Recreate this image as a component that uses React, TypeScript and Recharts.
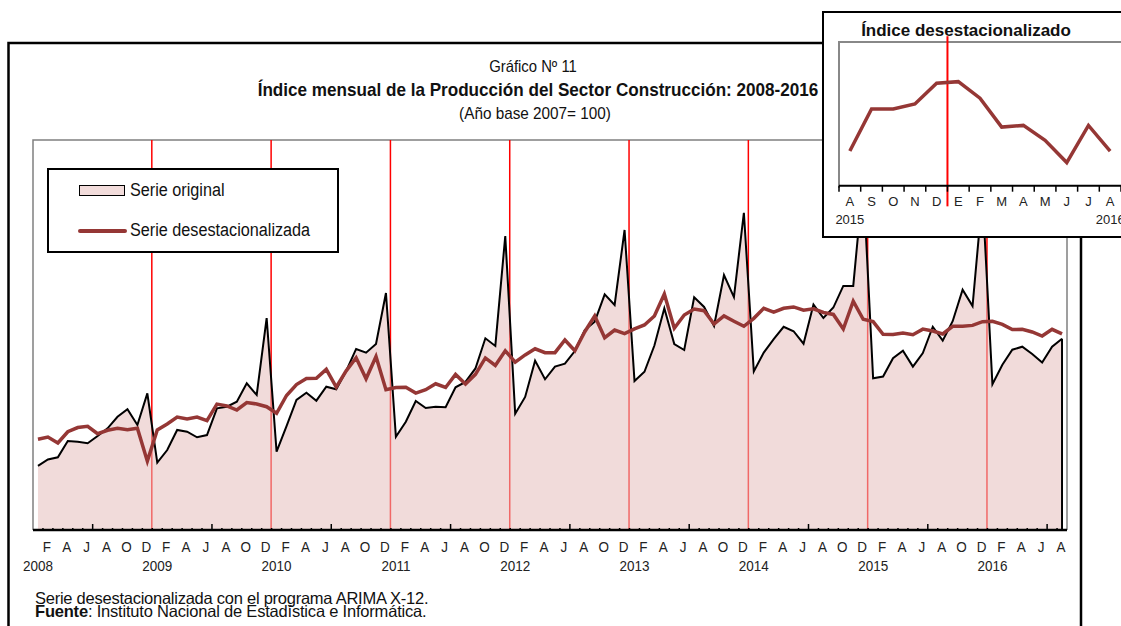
import React from 'react';
import { ComposedChart, LineChart, Area, Line, XAxis, YAxis, ReferenceLine } from 'recharts';

const ARIAL = "'Liberation Sans', Arial, sans-serif";
const NARROW_SCALE = 0.9;

const startYear = 2008;
const monthLetters = ['E', 'F', 'M', 'A', 'M', 'J', 'J', 'A', 'S', 'O', 'N', 'D'];

// Serie original (Ene 2008 - Ago 2016)
const original = [
  112.7, 117.0, 118.5, 129.3, 128.9, 127.8, 132.7, 137.8, 145.5, 150.5, 140.0, 161.1,
  114.9, 123.3, 136.7, 135.5, 131.8, 133.3, 151.1, 152.2, 155.5, 167.8, 160.0, 211.3,
  122.2, 139.3, 156.7, 161.5, 156.2, 165.5, 163.8, 176.0, 190.7, 188.2, 194.0, 228.0,
  132.2, 142.2, 156.0, 151.3, 152.2, 151.8, 165.1, 168.7, 177.7, 197.8, 192.7, 266.0,
  147.5, 158.7, 182.9, 170.5, 178.9, 180.9, 189.3, 203.3, 208.9, 227.1, 220.0, 270.0,
  169.3, 175.5, 193.0, 217.8, 194.0, 190.0, 225.1, 218.7, 206.0, 240.0, 225.3, 281.5,
  175.7, 188.3, 197.3, 205.5, 202.5, 194.2, 220.3, 211.3, 218.3, 232.7, 232.7, 303.3,
  171.1, 172.3, 184.5, 189.5, 178.9, 188.0, 205.5, 196.2, 209.2, 230.2, 219.3, 293.3,
  167.2, 180.2, 190.2, 192.2, 187.3, 181.7, 192.2, 197.5,
];

// Serie desestacionalizada
const desest = [
  130.5, 132.0, 128.0, 135.5, 138.3, 139.1, 134.2, 136.5, 137.8, 136.9, 137.8, 115.9,
  136.7, 140.7, 145.3, 144.1, 145.3, 142.9, 153.9, 152.7, 150.0, 155.0, 154.0, 152.2,
  147.8, 159.7, 167.0, 171.0, 171.1, 177.1, 165.3, 176.1, 184.8, 170.8, 185.7, 163.5,
  165.0, 165.1, 161.3, 163.5, 167.5, 165.0, 173.7, 167.3, 173.8, 184.7, 179.7, 189.5,
  181.9, 186.7, 190.8, 188.2, 188.2, 196.7, 189.5, 202.2, 212.7, 198.2, 203.3, 200.9,
  204.1, 206.7, 212.7, 227.3, 204.5, 213.3, 217.3, 216.2, 207.3, 212.7, 209.2, 205.8,
  211.1, 217.8, 215.3, 217.8, 218.7, 216.5, 217.5, 215.0, 213.7, 204.0, 222.5, 210.5,
  208.9, 200.5, 200.3, 201.3, 200.2, 203.9, 202.7, 200.7, 205.8, 205.8, 206.4, 208.9,
  209.1, 207.1, 203.6, 203.8, 202.0, 199.3, 203.8, 200.7,
];

const decemberIdx = [11, 23, 35, 47, 59, 71, 83, 95];
const mainDomain = [70, 330];

// Inset: Ago 2015 - Ago 2016
const insetStart = 91;
const insetLetters = ['A', 'S', 'O', 'N', 'D', 'E', 'F', 'M', 'A', 'M', 'J', 'J', 'A'];
const insetYears = ['2015', '2016'];
const insetDomain = [196.5, 213.9];

const mainData = original.map((v, i) => ({ i, original: v, desest: desest[i] }));
const insetData = desest.slice(insetStart).map((v, j) => ({ j, v }));

const mainTicks: number[] = [];
for (let i = 0; i < original.length; i++) mainTicks.push(i);
for (let i = 0; i < original.length - 1; i++) mainTicks.push(i + 0.5);
mainTicks.sort((a, b) => a - b);

const insetTicks: number[] = [];
for (let j = -0.5; j <= insetLetters.length - 0.5; j += 0.5) insetTicks.push(j);

const NarrowText = ({ x, y, children, size = 15 }: any) => (
  <text
    transform={`translate(${x},${y}) scale(${NARROW_SCALE},1)`}
    textAnchor="middle"
    fontFamily={ARIAL}
    fontSize={size}
    fill="#222"
  >
    {children}
  </text>
);

const MainTick = (props: any) => {
  const { x, y, payload } = props;
  const v = payload.value;
  if (Number.isInteger(v)) {
    const m = v % 12;
    return (
      <g>
        {m % 2 === 1 && <NarrowText x={x - 1} y={y + 22}>{monthLetters[m]}</NarrowText>}
        {m === 0 && <NarrowText x={x} y={y + 41}>{startYear + v / 12}</NarrowText>}
      </g>
    );
  }
  const major = (((v - 5.5) % 12) + 12) % 12 === 0;
  return <line x1={x} x2={x} y1={y} y2={y - (major ? 6 : 2)} stroke="#000" strokeWidth={1.5} />;
};

const InsetTick = (props: any) => {
  const { x, y, payload } = props;
  const v = payload.value;
  if (Number.isInteger(v)) {
    return (
      <g>
        <text x={x} y={y + 20} textAnchor="middle" fontFamily={ARIAL} fontSize={13} fill="#222">
          {insetLetters[v]}
        </text>
        {v === 0 && (
          <text x={x} y={y + 38} textAnchor="middle" fontFamily={ARIAL} fontSize={13} fill="#222">
            {insetYears[0]}
          </text>
        )}
        {v === insetLetters.length - 1 && (
          <text x={x} y={y + 38} textAnchor="middle" fontFamily={ARIAL} fontSize={13} fill="#222">
            {insetYears[1]}
          </text>
        )}
      </g>
    );
  }
  return <line x1={x} x2={x} y1={y} y2={y + 6} stroke="#000" strokeWidth={1.5} />;
};

const abs = (s: React.CSSProperties): React.CSSProperties => ({ position: 'absolute', ...s });

const centeredNarrow = (cx: number, top: number, size: number, lh: number, bold = false): React.CSSProperties =>
  abs({
    left: cx - 450,
    width: 900,
    top,
    textAlign: 'center',
    fontFamily: ARIAL,
    fontSize: size,
    fontWeight: bold ? 'bold' : 'normal',
    lineHeight: `${lh}px`,
    color: '#111',
    whiteSpace: 'nowrap',
    transform: `scaleX(${NARROW_SCALE})`,
    transformOrigin: 'center',
  });

const leftNarrow = (left: number, top: number, size: number, lh: number): React.CSSProperties =>
  abs({
    left,
    top,
    fontFamily: ARIAL,
    fontSize: size,
    lineHeight: `${lh}px`,
    color: '#111',
    whiteSpace: 'nowrap',
    transform: `scaleX(${NARROW_SCALE})`,
    transformOrigin: 'left',
  });

export default function App() {
  const last = original.length - 1;
  const chartMargin = { top: 140, right: 54, bottom: 56, left: 33 };
  return (
    <div style={abs({ left: 0, top: 0, width: 1121, height: 626, overflow: 'hidden', background: '#fff' })}>
      {/* outer frame and plot border */}
      <svg width={1121} height={626} style={abs({ left: 0, top: 0 })}>
        <path d="M8.5,626 L8.5,43 L1081,43 L1081,626" fill="none" stroke="#000" strokeWidth={2.5} />
        <path d="M33,530 L33,140 L1067,140 L1067,530" fill="none" stroke="#808080" strokeWidth={1.5} />
      </svg>

      {/* titles */}
      <div style={centeredNarrow(533, 56, 16.5, 20)}>Gráfico Nº 11</div>
      <div style={centeredNarrow(538, 79, 19, 22, true)}>
        Índice mensual de la Producción del Sector Construcción: 2008-2016
      </div>
      <div style={centeredNarrow(535, 104, 17, 20)}>(Año base 2007= 100)</div>

      {/* red year separators (under the area so the fill tints them) */}
      <div style={abs({ left: 0, top: 0 })}>
        <ComposedChart width={1121} height={626} data={mainData} margin={chartMargin}>
          <XAxis dataKey="i" type="number" domain={[-0.5, last + 0.5]} tick={false} axisLine={false} tickLine={false} height={40} />
          <YAxis hide domain={mainDomain} />
          <Line
            type="linear"
            dataKey="original"
            stroke="none"
            strokeOpacity={0}
            dot={false}
            activeDot={false}
            isAnimationActive={false}
          />
          {decemberIdx.map((d) => (
            <ReferenceLine key={d} x={d + 0.45} stroke="#ff0000" strokeWidth={1.5} />
          ))}
        </ComposedChart>
      </div>

      {/* main chart */}
      <div style={abs({ left: 0, top: 0 })}>
        <ComposedChart width={1121} height={626} data={mainData} margin={chartMargin}>
          <XAxis
            dataKey="i"
            type="number"
            domain={[-0.5, last + 0.5]}
            ticks={mainTicks}
            interval={0}
            tick={<MainTick />}
            tickLine={false}
            tickSize={0}
            tickMargin={0}
            height={40}
            axisLine={{ stroke: '#000', strokeWidth: 2.5 }}
          />
          <YAxis hide domain={mainDomain} />
          <Area
            type="linear"
            dataKey="original"
            stroke="#000"
            strokeWidth={2}
            fill="#E6BDBB"
            fillOpacity={0.55}
            isAnimationActive={false}
            dot={false}
            activeDot={false}
          />
          <ReferenceLine
            segment={[{ x: last, y: original[last] }, { x: last, y: mainDomain[0] }]}
            stroke="#000"
            strokeWidth={2}
          />
          <Line
            type="linear"
            dataKey="desest"
            stroke="#953735"
            strokeWidth={3.5}
            dot={false}
            activeDot={false}
            isAnimationActive={false}
          />
        </ComposedChart>
      </div>

      {/* legend */}
      <div style={abs({ left: 47, top: 168, width: 292, height: 85, boxSizing: 'border-box', border: '2px solid #000', background: '#fff' })}>
        <div style={abs({ left: 30, top: 15, width: 46, height: 11, boxSizing: 'border-box', border: '1.5px solid #000', background: '#F2DCDB' })} />
        <div style={leftNarrow(81, 9, 18, 22)}>Serie original</div>
        <div style={abs({ left: 29, top: 59, width: 49, height: 3.5, borderRadius: 2, background: '#953735' })} />
        <div style={leftNarrow(81, 49, 18, 22)}>Serie desestacionalizada</div>
      </div>

      {/* footer */}
      <div style={abs({ left: 35, top: 589.5, fontFamily: ARIAL, fontSize: 16.5, lineHeight: '16px', letterSpacing: -0.25, color: '#111', whiteSpace: 'nowrap' })}>
        Serie desestacionalizada con el programa ARIMA X-12.
      </div>
      <div style={abs({ left: 35, top: 602.5, fontFamily: ARIAL, fontSize: 16.5, lineHeight: '16px', letterSpacing: -0.2, color: '#111', whiteSpace: 'nowrap' })}>
        <b>Fuente</b>: Instituto Nacional de Estadística e Informática.
      </div>

      {/* inset */}
      <div style={abs({ left: 822, top: 11, width: 400, height: 227, boxSizing: 'border-box', border: '2px solid #000', background: '#fff' })} />
      <div style={abs({ left: 838, top: 41, width: 300, height: 145, borderTop: '2px solid #888', borderLeft: '2px solid #888' })} />
      <div style={abs({ left: 823, top: 20.5, width: 286, textAlign: 'center', fontFamily: ARIAL, fontSize: 17, fontWeight: 'bold', lineHeight: '20px', color: '#111', whiteSpace: 'nowrap' })}>
        Índice desestacionalizado
      </div>
      <div style={abs({ left: 823, top: 12 })}>
        <LineChart width={298} height={225} data={insetData} margin={{ top: 30, right: 0, bottom: 21.3, left: 16 }}>
          <XAxis
            dataKey="j"
            type="number"
            domain={[-0.5, insetLetters.length - 0.5]}
            ticks={insetTicks}
            interval={0}
            tick={<InsetTick />}
            tickLine={false}
            tickSize={0}
            tickMargin={0}
            height={30}
            axisLine={{ stroke: '#000', strokeWidth: 2 }}
          />
          <YAxis hide domain={insetDomain} />
          <ReferenceLine
            segment={[{ x: 4.5, y: 214.6 }, { x: 4.5, y: 194.0 }]}
            ifOverflow="visible"
            stroke="#ff0000"
            strokeWidth={2}
          />
          <Line
            type="linear"
            dataKey="v"
            stroke="#953735"
            strokeWidth={3.5}
            dot={false}
            activeDot={false}
            isAnimationActive={false}
          />
        </LineChart>
      </div>
    </div>
  );
}
